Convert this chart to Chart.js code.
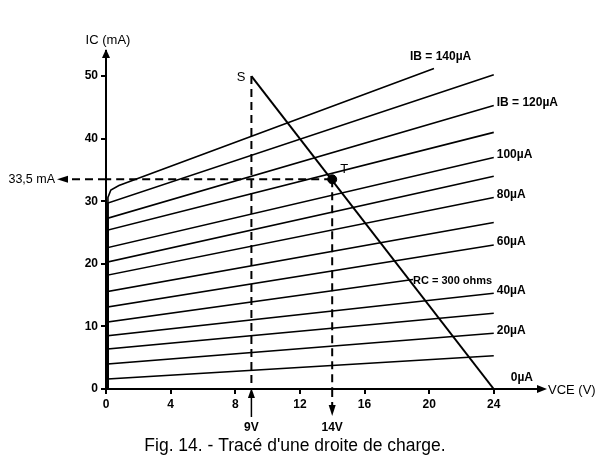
<!DOCTYPE html>
<html>
<head>
<meta charset="utf-8">
<script src="https://cdn.jsdelivr.net/npm/chart.js@4.4.1/dist/chart.umd.min.js"></script>
<style>
	html, body { margin: 0; padding: 0; background: #fff; }
	#wrap { width: 612px; height: 465px; }
</style>
</head>
<body>
<div id="wrap"><canvas id="c" width="612" height="465"></canvas></div>
<script>
// base current of each curve (µA)
const ibValues = [0, 10, 20, 30, 40, 50, 60, 70, 80, 90, 100, 110, 120, 130, 140];
// IC (mA) where each curve leaves the knee, near VCE = 0
const icStart = [0, 1.6, 4.0, 6.4, 8.5, 10.7, 13.1, 15.6, 18.2, 20.3, 22.6, 25.4, 27.3, 29.7, 31.7];
// where each curve ends (VCE in V, IC in mA)
const vceEnd = [24, 24, 24, 24, 24, 19, 24, 24, 24, 24, 24, 24, 24, 24, 20.3];
const icEnd = [0, 5.3, 8.9, 12.1, 15.3, 17.5, 23.0, 26.6, 30.6, 34.0, 37.0, 41.0, 45.3, 50.2, 51.2];
const vceKnee = 0.12;

// load line RC = 300 ohms, from S to the supply voltage
const loadVce = [9, 24];
const loadIc = [50, 0];

// operating point T
const pointT = { vce: 14, ic: 33.5 };

const xTicks = [0, 4, 8, 12, 16, 20, 24];
const yTicks = [0, 10, 20, 30, 40, 50];

// which curves carry a label, and its text
const curveLabels = [
	{ ib: 140, text: 'IB = 140µA' },
	{ ib: 120, text: 'IB = 120µA' },
	{ ib: 100, text: '100µA' },
	{ ib: 80, text: '80µA' },
	{ ib: 60, text: '60µA' },
	{ ib: 40, text: '40µA' },
	{ ib: 20, text: '20µA' },
	{ ib: 0, text: '0µA' }
];

const FAMILY = '"Liberation Sans", Arial, sans-serif';
const BOLD = 'bold 12px ' + FAMILY;
const PLAIN = '13px ' + FAMILY;

function curvePoints(i) {
	const pts = [{ x: vceKnee, y: 0 }];
	if (ibValues[i] === 140) {
		// rounded knee of the top curve
		pts.push({ x: vceKnee, y: 30.6 }, { x: 0.3, y: 31.8 }, { x: 0.8, y: 32.5 });
	} else {
		pts.push({ x: vceKnee, y: icStart[i] });
	}
	pts.push({ x: vceEnd[i], y: icEnd[i] });
	return pts;
}

const datasets = ibValues.map((ib, i) => ({
	data: ib === 0 ? [{ x: 0, y: 0 }, { x: 24, y: 0 }] : curvePoints(i),
	borderColor: '#000',
	borderWidth: 1.6,
	pointRadius: 0,
	tension: 0
}));

datasets.push({
	data: loadVce.map((v, i) => ({ x: v, y: loadIc[i] })),
	borderColor: '#000', borderWidth: 2, pointRadius: 0
});
// dashed construction lines
const dashed = { borderColor: '#000', borderWidth: 2, borderDash: [8, 5], pointRadius: 0 };
datasets.push(Object.assign({ data: [{ x: loadVce[0], y: loadIc[0] }, { x: loadVce[0], y: 0 }] }, dashed));
datasets.push(Object.assign({ data: [{ x: pointT.vce, y: pointT.ic }, { x: pointT.vce, y: 0 }] }, dashed));
datasets.push(Object.assign({ data: [{ x: pointT.vce, y: pointT.ic }, { x: 0, y: pointT.ic }] }, dashed));
datasets.push({
	data: [{ x: pointT.vce, y: pointT.ic }],
	showLine: false, pointRadius: 4.5, pointBackgroundColor: '#000', pointBorderColor: '#000'
});

function arrow(ctx, x, y, dir, len, half) {
	ctx.beginPath();
	ctx.moveTo(x, y);
	if (dir === 'up') { ctx.lineTo(x - half, y + len); ctx.lineTo(x + half, y + len); }
	if (dir === 'down') { ctx.lineTo(x - half, y - len); ctx.lineTo(x + half, y - len); }
	if (dir === 'left') { ctx.lineTo(x + len, y - half); ctx.lineTo(x + len, y + half); }
	if (dir === 'right') { ctx.lineTo(x - len, y - half); ctx.lineTo(x - len, y + half); }
	ctx.closePath();
	ctx.fill();
}

const annotations = {
	id: 'annotations',
	afterDraw(chart) {
		const { ctx, scales: { x, y }, chartArea } = chart;
		const x0 = x.getPixelForValue(0);
		const y0 = y.getPixelForValue(0);
		ctx.save();
		ctx.fillStyle = '#000';
		ctx.strokeStyle = '#000';

		// axis arrows and titles
		arrow(ctx, x0, chartArea.top - 2, 'up', 9, 4);
		arrow(ctx, chartArea.right + 8, y0, 'right', 10, 4);
		ctx.font = PLAIN;
		ctx.textAlign = 'center';
		ctx.textBaseline = 'middle';
		ctx.fillText('IC (mA)', x0 + 2, 40);
		ctx.textAlign = 'left';
		ctx.fillText('VCE (V)', chartArea.right + 9, y0 + 1);

		// 9V marker below the axis, arrow pointing up
		const x9 = x.getPixelForValue(loadVce[0]);
		ctx.lineWidth = 1.5;
		ctx.beginPath(); ctx.moveTo(x9, y0 + 6); ctx.lineTo(x9, y0 + 28); ctx.stroke();
		arrow(ctx, x9, y0 - 1, 'up', 10, 3.5);
		// 14V marker, dashed then arrow pointing down
		const xT = x.getPixelForValue(pointT.vce);
		ctx.lineWidth = 2;
		ctx.setLineDash([8, 5]);
		ctx.beginPath(); ctx.moveTo(xT, y0); ctx.lineTo(xT, y0 + 16); ctx.stroke();
		// 33,5 mA marker, dashed to the left of the axis
		const yT = y.getPixelForValue(pointT.ic);
		ctx.beginPath(); ctx.moveTo(x0, yT); ctx.lineTo(x0 - 38, yT); ctx.stroke();
		ctx.setLineDash([]);
		arrow(ctx, xT, y0 + 27, 'down', 11, 3.5);
		arrow(ctx, x0 - 49, yT, 'left', 11, 3.5);

		ctx.font = BOLD;
		ctx.textAlign = 'center';
		ctx.fillText('9V', x9, y0 + 39);
		ctx.fillText('14V', xT, y0 + 39);
		ctx.font = '12.5px ' + FAMILY;
		ctx.textAlign = 'right';
		ctx.fillText('33,5 mA', x0 - 51, yT);

		// S and T
		ctx.font = PLAIN;
		ctx.textAlign = 'right';
		ctx.fillText('S', x9 - 6, y.getPixelForValue(loadIc[0]) + 1);
		ctx.textAlign = 'left';
		ctx.fillText('T', xT + 8, yT - 10);

		// curve labels
		ctx.font = BOLD;
		curveLabels.forEach(l => {
			const i = ibValues.indexOf(l.ib);
			let px = x.getPixelForValue(vceEnd[i]) + 3;
			let py = y.getPixelForValue(icEnd[i]) - 3;
			if (l.ib === 140) { px = x.getPixelForValue(vceEnd[i]) - 24; py -= 9; }
			if (l.ib === 0) { px += 14; py = y0 - 11; }
			ctx.fillText(l.text, px, py);
		});
		ctx.font = 'bold 11px ' + FAMILY;
		ctx.fillText('RC = 300 ohms', x.getPixelForValue(19), y.getPixelForValue(17.2));

		// caption
		ctx.font = '17.5px ' + FAMILY;
		ctx.textAlign = 'center';
		ctx.fillText("Fig. 14. - Tracé d'une droite de charge.", 295, 446);
		ctx.restore();
	}
};

function axisStyle() {
	return {
		type: 'linear',
		border: { color: '#000', width: 2 },
		grid: { drawOnChartArea: false, drawTicks: true, tickLength: 5, color: '#000', lineWidth: 2 },
		ticks: { color: '#000', font: { family: FAMILY, size: 12, weight: 'bold' }, padding: 3 }
	};
}

const xAxis = Object.assign(axisStyle(), {
	min: 0, max: 26.8,
	afterBuildTicks: s => { s.ticks = xTicks.map(v => ({ value: v })); },
	afterFit: s => { s.height = 76; }
});
const yAxis = Object.assign(axisStyle(), {
	min: 0, max: 54,
	afterBuildTicks: s => { s.ticks = yTicks.map(v => ({ value: v })); },
	afterFit: s => { s.width = 106; }
});

new Chart(document.getElementById('c'), {
	type: 'scatter',
	data: { datasets },
	options: {
		responsive: false,
		animation: false,
		showLine: true,
		layout: { padding: { top: 51, right: 73, left: 0, bottom: 0 } },
		plugins: { legend: { display: false }, tooltip: { enabled: false } },
		scales: { x: xAxis, y: yAxis }
	},
	plugins: [annotations]
});
</script>
</body>
</html>
